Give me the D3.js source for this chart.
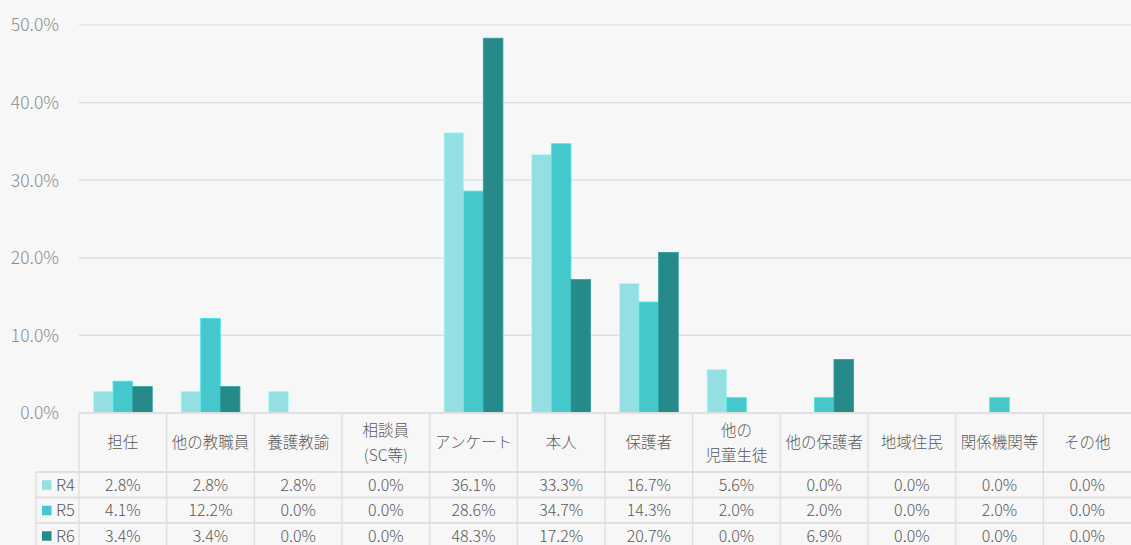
<!DOCTYPE html>
<html><head><meta charset="utf-8">
<script src="https://cdn.jsdelivr.net/npm/d3@7"></script>
<style>
html,body{margin:0;padding:0;background:#f7f7f7;}
svg{display:block;font-family:"Noto Sans CJK JP","Noto Sans",sans-serif;}
</style></head><body>
<svg id="chart" width="1131" height="545"></svg>
<script>
const categories = [["担任"],["他の教職員"],["養護教諭"],["相談員","(SC等)"],["アンケート"],["本人"],["保護者"],["他の","児童生徒"],["他の保護者"],["地域住民"],["関係機関等"],["その他"]];
const seriesNames = ["R4","R5","R6"];
const r4 = [2.8,2.8,2.8,0.0,36.1,33.3,16.7,5.6,0.0,0.0,0.0,0.0];
const r5 = [4.1,12.2,0.0,0.0,28.6,34.7,14.3,2.0,2.0,0.0,2.0,0.0];
const r6 = [3.4,3.4,0.0,0.0,48.3,17.2,20.7,0.0,6.9,0.0,0.0,0.0];
const yTicks = [0,10,20,30,40,50];
const colors = ["#93dfe1","#44c8cb","#268a8b"];

(function(){
const values = [r4,r5,r6];
const svg = d3.select("#chart");
const pLeft = 79, pRight = 1131, pTop = 25, base = 413;
const catKeys = categories.map(c=>c.join(""));
const x = d3.scaleBand().domain(catKeys).range([pLeft,pRight]).paddingInner(0).paddingOuter(0);
const xs = d3.scaleBand().domain(seriesNames).range([0,x.bandwidth()]).paddingInner(0).paddingOuter(0.735);
const y = d3.scaleLinear().domain([0,50]).range([base,pTop]);

svg.append("g").selectAll("line").data(yTicks.filter(t=>t>0)).join("line")
  .attr("x1",pLeft).attr("x2",pRight).attr("y1",d=>y(d)).attr("y2",d=>y(d))
  .attr("stroke","#dcdcdc").attr("stroke-width",1.2);

svg.append("g").selectAll("text").data(yTicks).join("text")
  .attr("x",59).attr("y",d=>y(d)).attr("dy","0.36em").attr("text-anchor","end")
  .attr("fill","#8c8c8c").attr("font-size",17.5).attr("font-weight",300).text(d=>d3.format(".1f")(d)+"%");

seriesNames.forEach((s,si)=>{
  svg.append("g").selectAll("rect").data(values[si].map((v,i)=>({v,k:catKeys[i]}))).join("rect")
    .attr("x",d=>x(d.k)+xs(s)).attr("width",xs.bandwidth())
    .attr("y",d=>y(d.v)).attr("height",d=>base-y(d.v))
    .attr("fill",colors[si]).attr("stroke",d3.color(colors[si]).brighter(0.4)).attr("stroke-width",d=>d.v>0?0.8:0);
});

const rowTop = [472,497.5,523,548.5];
const tl = svg.append("g").attr("stroke","#e0e0e0");
tl.append("line").attr("x1",pLeft).attr("x2",pRight).attr("y1",base).attr("y2",base).attr("stroke-width",2.2);
rowTop.forEach(yy=>tl.append("line").attr("x1",36).attr("x2",pRight).attr("y1",yy).attr("y2",yy).attr("stroke-width",2));
catKeys.forEach(k=>tl.append("line").attr("x1",x(k)).attr("x2",x(k)).attr("y1",base).attr("y2",548).attr("stroke-width",1.5));
tl.append("line").attr("x1",36).attr("x2",36).attr("y1",472).attr("y2",548).attr("stroke-width",1.5);

const hdr = svg.append("g").attr("fill","#595959").attr("font-size",15.5).attr("font-weight",300).attr("text-anchor","middle");
categories.forEach((lines,i)=>{
  const cx = x(catKeys[i]) + x.bandwidth()/2;
  const cy = (base+472)/2;
  lines.forEach((ln,j)=>{
    hdr.append("text").attr("x",cx).attr("y",cy + (j-(lines.length-1)/2)*25).attr("dy","0.36em").text(ln);
  });
});

const fmt = d3.format(".1f");
seriesNames.forEach((s,si)=>{
  const cy = (rowTop[si]+rowTop[si+1])/2;
  const g = svg.append("g").attr("fill","#595959").attr("font-size",16).attr("font-weight",300);
  g.append("rect").attr("x",42).attr("y",cy-4.5).attr("width",9.5).attr("height",9.5).attr("fill",colors[si]);
  g.append("text").attr("x",56).attr("y",cy).attr("dy","0.36em").attr("font-size",16.5).text(s);
  values[si].forEach((v,i)=>{
    g.append("text").attr("x",x(catKeys[i])+x.bandwidth()/2).attr("y",cy).attr("dy","0.36em")
      .attr("text-anchor","middle").text(fmt(v)+"%");
  });
});
})();
</script></body></html>
